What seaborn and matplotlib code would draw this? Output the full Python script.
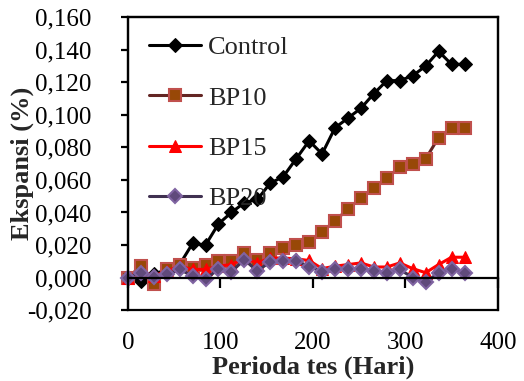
import numpy as np
import pandas as pd
import matplotlib
matplotlib.use("Agg")
import matplotlib.pyplot as plt
from matplotlib.ticker import FuncFormatter, MultipleLocator
import seaborn as sns

days = [0, 14, 28, 42, 56, 70, 84, 98, 112, 126, 140, 154, 168, 182, 196,
        210, 224, 238, 252, 266, 280, 294, 308, 322, 336, 350, 364]

control = [0.000, -0.002, 0.002, 0.005, 0.008, 0.021, 0.020, 0.033, 0.040, 0.046,
           0.048, 0.058, 0.062, 0.073, 0.084, 0.076, 0.092, 0.098, 0.104, 0.113,
           0.121, 0.121, 0.124, 0.130, 0.139, 0.131, 0.131]
bp10 = [0.000, 0.007, -0.004, 0.005, 0.008, 0.006, 0.008, 0.010, 0.010, 0.015,
        0.011, 0.015, 0.018, 0.020, 0.022, 0.028, 0.035, 0.042, 0.049, 0.055,
        0.061, 0.068, 0.070, 0.073, 0.086, 0.092, 0.092]
bp15 = [0.000, 0.004, 0.001, 0.004, 0.007, 0.005, 0.005, 0.007, 0.008, 0.012,
        0.009, 0.012, 0.012, 0.0115, 0.0105, 0.0055, 0.007, 0.008, 0.009, 0.0065,
        0.0065, 0.009, 0.0055, 0.003, 0.008, 0.0125, 0.0125]
bp20 = [0.000, 0.003, 0.0006, 0.002, 0.005, 0.001, -0.0006, 0.005, 0.0037, 0.011,
        0.004, 0.0098, 0.0104, 0.0104, 0.0067, 0.0037, 0.005, 0.0055, 0.005, 0.004,
        0.003, 0.005, 0.000, -0.003, 0.003, 0.0055, 0.003]

series_names = ["Control", "BP10", "BP15", "BP20"]
series_values = [control, bp10, bp15, bp20]

sns.set_theme(style="ticks")
plt.rcParams['font.family'] = ['Liberation Serif', 'DejaVu Serif']

df = pd.DataFrame({
    "day": days * len(series_names),
    "value": sum(series_values, []),
    "series": sum([[n] * len(days) for n in series_names], []),
})

styles = {
    "Control": dict(color="black", marker="D", markersize=7,
                    markerfacecolor="black", markeredgecolor="black", lw=2.2),
    "BP10": dict(color="#632523", marker="s", markersize=8.5,
                 markerfacecolor="#984807", markeredgecolor="#C0504D",
                 markeredgewidth=1.5, lw=2.2),
    "BP15": dict(color="#FF0000", marker="^", markersize=9,
                 markerfacecolor="#FF0000", markeredgecolor="#FF0000", lw=2.2),
    "BP20": dict(color="#403151", marker="D", markersize=7.5,
                 markerfacecolor="#604A7B", markeredgecolor="#8064A2",
                 markeredgewidth=1.5, lw=2.2),
}

fig = plt.figure(figsize=(5.24, 3.81), dpi=100)
ax = fig.add_axes([0.244, 0.186, 0.706, 0.769])

for name in series_names:
    sub = df[df["series"] == name]
    sns.lineplot(data=sub, x="day", y="value", ax=ax, label=name,
                 clip_on=False, **styles[name])

ax.set_xlim(0, 400)
ax.set_ylim(-0.02, 0.16)
ax.xaxis.set_major_locator(MultipleLocator(100))
ax.yaxis.set_major_locator(MultipleLocator(0.02))
ax.yaxis.set_major_formatter(FuncFormatter(lambda v, p: f"{v:.3f}".replace(".", ",")))

# x axis crosses at zero, labels at the low position
ax.spines['bottom'].set_position(('data', 0))
for s in ['top', 'right', 'left', 'bottom']:
    ax.spines[s].set_visible(True)
    ax.spines[s].set_linewidth(1.6)
    ax.spines[s].set_color('black')
ax.patch.set_edgecolor('black')
ax.patch.set_linewidth(1.6)
ax.patch.set_facecolor('white')

ax.tick_params(axis='x', direction='out', length=7, width=1.6, pad=32,
               labelsize=18, colors='black')
ax.tick_params(axis='y', direction='out', length=5, width=1.6, pad=21,
               labelsize=18, colors='black')

ax.set_xlabel("Perioda tes (Hari)", fontsize=19, fontweight='bold', labelpad=1)
ax.set_ylabel("Ekspansi (%)", fontsize=19, fontweight='bold', labelpad=-5)

leg = ax.legend(loc='upper left', bbox_to_anchor=(0.01, 0.995), frameon=False,
                fontsize=19, labelspacing=1.02, handlelength=2.0,
                handletextpad=0.25, borderaxespad=0.25, borderpad=0.4)

fig.savefig("out.png", dpi=100)
